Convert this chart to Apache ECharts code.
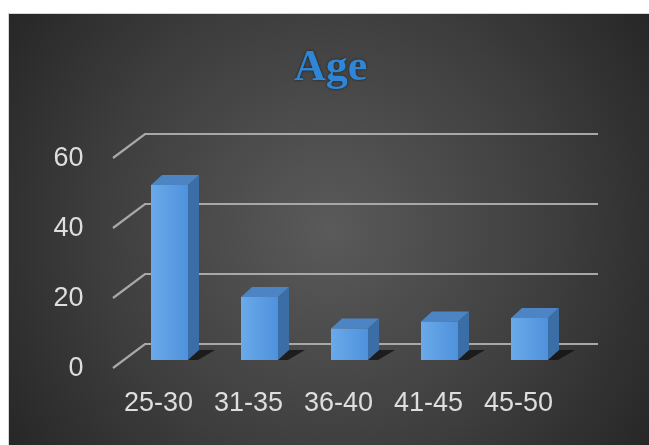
<!DOCTYPE html>
<html>
<head>
<meta charset="utf-8">
<script src="https://cdn.jsdelivr.net/npm/echarts@6/dist/echarts.min.js"></script>
<style>
html,body{margin:0;padding:0;background:#fff;}
#chart{width:649px;height:445px;}
</style>
</head>
<body>
<div id="chart"></div>
<script>
var categories = ['25-30', '31-35', '36-40', '41-45', '45-50'];
var ageCounts = [50, 18, 9, 11, 12];
var yTicks = [0, 20, 40, 60];
var titleText = 'Age';

var chart = echarts.init(document.getElementById('chart'), null, {renderer: 'canvas'});

var DX = 11, DY = -10, BAR_W = 37;

function renderBar(params, api) {
  var idx = api.value(0), val = api.value(1);
  var p0 = api.coord([idx, 0]);
  var p1 = api.coord([idx, val]);
  var xl = p0[0] - BAR_W / 2, xr = p0[0] + BAR_W / 2;
  var yb = p0[1], yt = p1[1];
  return {
    type: 'group',
    children: [
      {
        type: 'polygon',
        shape: {points: [[xr - 2, yb], [xr + DX, yb + DY], [xr + DX + 16, yb + DY], [xr + 10, yb]]},
        style: {fill: 'rgba(15,15,15,0.75)'}
      },
      {
        type: 'polygon',
        shape: {points: [[xr, yt], [xr + DX, yt + DY], [xr + DX, yb + DY], [xr, yb]]},
        style: {fill: '#3b6ea6'}
      },
      {
        type: 'polygon',
        shape: {points: [[xl, yt], [xl + DX, yt + DY], [xr + DX, yt + DY], [xr, yt]]},
        style: {fill: '#4d84c4'}
      },
      {
        type: 'rect',
        shape: {x: xl, y: yt, width: BAR_W, height: yb - yt},
        style: {
          fill: new echarts.graphic.LinearGradient(0, 0, 1, 0, [
            {offset: 0, color: '#6aaaea'},
            {offset: 1, color: '#4f92dc'}
          ])
        }
      }
    ]
  };
}

function renderGrid(params, api) {
  var v = api.value(1);
  var y = api.coord([0, v])[1];
  var cs = params.coordSys;
  return {
    type: 'polyline',
    shape: {points: [[cs.x - 11.5, y + 8], [cs.x + 20.5, y - 16], [cs.x + cs.width + 23.5, y - 16]]},
    style: {stroke: '#a8a8a8', lineWidth: 2.2, fill: null}
  };
}

chart.setOption({
  backgroundColor: '#ffffff',
  animation: false,
  graphic: [{
    type: 'rect',
    z: -10,
    shape: {x: 8.5, y: 13.5, width: 641, height: 432},
    style: {
      fill: new echarts.graphic.RadialGradient(0.5, 0.5, 0.95, [
        {offset: 0, color: '#5a5a5a'},
        {offset: 0.55, color: '#3e3e3e'},
        {offset: 1, color: '#232323'}
      ]),
      stroke: '#d6d6d6',
      lineWidth: 1
    }
  }],
  title: {
    text: titleText,
    left: 289,
    top: 42,
    textStyle: {
      fontFamily: 'Liberation Serif',
      fontWeight: 'bold',
      fontSize: 44,
      color: '#2f86d6',
      textShadowColor: 'rgba(0,0,0,0.6)',
      textShadowBlur: 3
    }
  },
  grid: {left: 124.5, right: 74.5, top: 150, bottom: 85},
  xAxis: {
    type: 'category',
    data: categories,
    axisLine: {show: false},
    axisTick: {show: false},
    splitLine: {show: false},
    axisLabel: {
      color: '#dedede',
      fontFamily: 'Liberation Sans',
      fontSize: 27,
      margin: 30,
      padding: [0, 22, 0, 0]
    }
  },
  yAxis: {
    type: 'value',
    min: 0,
    max: 60,
    interval: 20,
    axisLine: {show: false},
    axisTick: {show: false},
    splitLine: {show: false},
    axisLabel: {
      color: '#dedede',
      fontFamily: 'Liberation Sans',
      fontSize: 27,
      margin: 41,
      verticalAlign: 'top',
      lineHeight: 18
    }
  },
  series: [
    {
      type: 'custom',
      name: 'grid',
      z: 1,
      silent: true,
      renderItem: renderGrid,
      data: yTicks.map(function (v) { return [0, v]; })
    },
    {
      type: 'custom',
      name: 'Age',
      z: 3,
      renderItem: renderBar,
      data: ageCounts.map(function (v, i) { return [i, v]; })
    }
  ]
});
</script>
</body>
</html>
